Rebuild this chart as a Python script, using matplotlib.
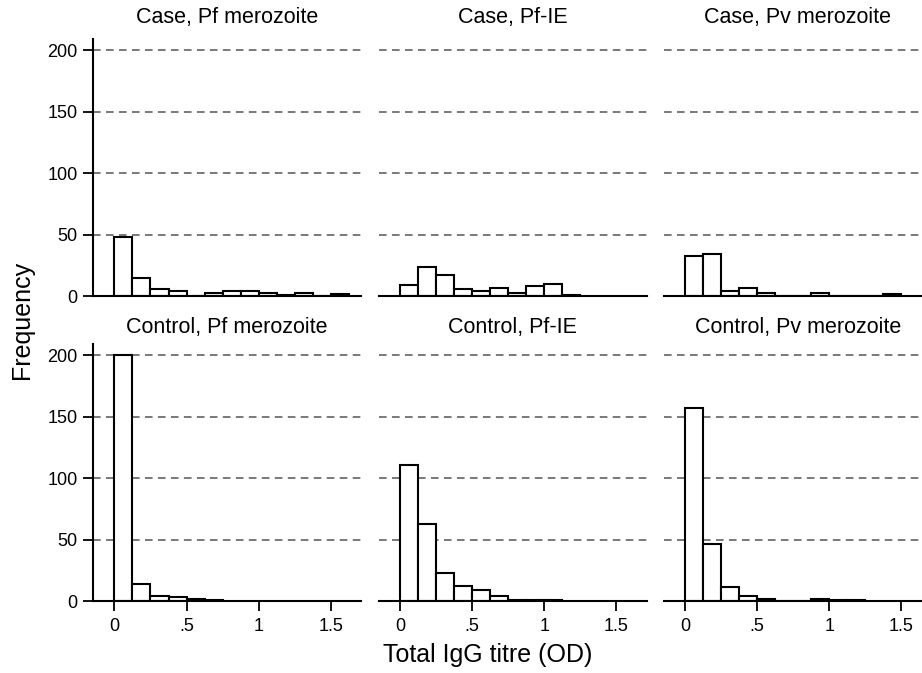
import numpy as np
import matplotlib
matplotlib.use("Agg")
import matplotlib.pyplot as plt

plt.rcParams['font.family'] = ['Liberation Sans', 'DejaVu Sans']

# histogram counts per 0.125 OD bin, starting at 0
bin_width = 0.125
case_pf_mero = [48, 15, 6, 4, 0, 3, 4, 4, 3, 1, 3, 0, 2]
case_pf_ie = [9, 24, 17, 6, 4, 7, 3, 8, 10, 1]
case_pv_mero = [33, 34, 4, 7, 3, 0, 0, 3, 0, 0, 0, 2]
control_pf_mero = [200, 14, 4, 3, 2, 1]
control_pf_ie = [111, 63, 23, 12, 9, 4, 1, 1, 1]
control_pv_mero = [157, 46, 11, 4, 2, 0, 0, 2, 1, 1]

panels = [
    ("Case, Pf merozoite", case_pf_mero),
    ("Case, Pf-IE", case_pf_ie),
    ("Case, Pv merozoite", case_pv_mero),
    ("Control, Pf merozoite", control_pf_mero),
    ("Control, Pf-IE", control_pf_ie),
    ("Control, Pv merozoite", control_pv_mero),
]
xticks = [0, 0.5, 1, 1.5]
xticklabels = ["0", ".5", "1", "1.5"]
yticks = [0, 50, 100, 150, 200]

W, H = 922, 673
fig = plt.figure(figsize=(W / 100, H / 100), dpi=100)

# panel geometry in pixels
lefts = [93, 378.5, 663.5]
bottoms = [296.3, 601]
ax_w = 268.3
ax_h = 257

for i, (title, counts) in enumerate(panels):
    row, col = divmod(i, 3)
    l = lefts[col]
    b = bottoms[row]
    ax = fig.add_axes([l / W, (H - b) / H, ax_w / W, ax_h / H])
    edges = np.arange(len(counts)) * bin_width
    for y in yticks[1:]:
        ax.axhline(y, color='#555555', lw=1.1, ls=(0, (5, 3.5)), zorder=0)
    ax.bar(edges, counts, width=bin_width, align='edge', color='white',
           edgecolor='black', linewidth=1.5, zorder=2)
    ax.set_xlim(-0.148, 1.71)
    ax.set_ylim(0, 209)
    for s in ['top', 'right']:
        ax.spines[s].set_visible(False)
    ax.spines['bottom'].set_linewidth(1.5)
    ax.spines['bottom'].set_zorder(3)
    ax.spines['left'].set_linewidth(1.5)
    if col == 0:
        ax.set_yticks(yticks)
        ax.tick_params(axis='y', length=7, width=1.3, labelsize=13, pad=4)
    else:
        ax.spines['left'].set_visible(False)
        ax.set_yticks([])
    if row == 1:
        ax.set_xticks(xticks)
        ax.set_xticklabels(xticklabels)
        ax.tick_params(axis='x', length=7, width=1.3, labelsize=13, pad=5)
    else:
        ax.set_xticks([])
    ax.patch.set_alpha(0)
    cx = (l + ax_w / 2) / W
    ty = 18 if row == 0 else 327
    fig.text(cx, 1 - ty / H, title, ha='center', va='center', fontsize=15.5)

fig.text(22 / W, 1 - 320 / H, "Frequency", rotation=90, ha='center',
         va='center', fontsize=18)
fig.text(488 / W, 1 - 655 / H, "Total IgG titre (OD)", ha='center',
         va='center', fontsize=18)

fig.savefig("out.png", dpi=100)
